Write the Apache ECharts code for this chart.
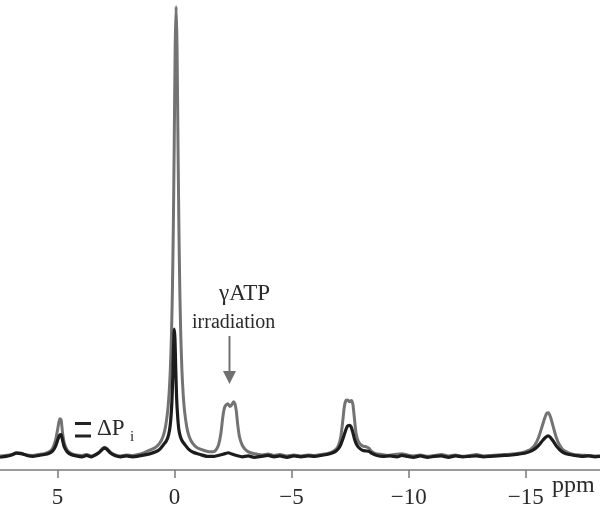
<!DOCTYPE html>
<html>
<head>
<meta charset="utf-8">
<script src="https://cdn.jsdelivr.net/npm/echarts@6/dist/echarts.min.js"></script>
<style>
  html, body { margin: 0; padding: 0; background: #fff; }
  #chart { width: 600px; height: 509px; }
</style>
</head>
<body>
<div id="chart"></div>
<script>
// chemical shift (ppm) and intensity
const controlSpectrum = [
  [7.45, 0.1], [7.2, 0.2], [6.95, 0.4], [6.75, 0.8], [6.55, 0.7], [6.3, 0.3], [6.05, 0.2], [5.8, 0.4],
  [5.55, 0.6], [5.35, 1.0], [5.2, 1.8], [5.08, 3.5], [4.98, 6.2], [4.9, 8.3], [4.84, 8.0], [4.78, 5.2],
  [4.7, 2.8], [4.58, 1.4], [4.42, 0.7], [4.2, 0.3], [3.95, 0.2], [3.75, 0.4], [3.55, 0.1], [3.38, 0.4],
  [3.2, 1.0], [3.06, 1.8], [2.97, 2.0], [2.88, 1.7], [2.75, 1.0], [2.55, 0.4], [2.3, 0.1], [2.05, 0.3],
  [1.8, 0.2], [1.55, 0.4], [1.35, 0.7], [1.13, 1.2], [0.83, 1.9], [0.63, 2.9], [0.48, 4.5], [0.38, 6.6],
  [0.29, 10], [0.23, 13.8], [0.18, 18.7], [0.13, 26.5], [0.09, 36], [0.05, 50], [0.01, 69], [-0.03, 90],
  [-0.07, 99], [-0.11, 90], [-0.15, 69], [-0.19, 50], [-0.23, 36], [-0.27, 26.5], [-0.32, 18.7], [-0.37, 13.8],
  [-0.43, 10], [-0.52, 6.6], [-0.62, 4.5], [-0.77, 2.9], [-0.97, 1.9], [-1.27, 1.3], [-1.5, 1.0], [-1.65, 1.0],
  [-1.77, 1.4], [-1.88, 2.5], [-1.98, 5], [-2.06, 8.5],
  [-2.13, 10.6], [-2.2, 11.3], [-2.28, 11.6], [-2.36, 11.0], [-2.44, 11.3], [-2.52, 12.0], [-2.58, 11.6], [-2.64, 10.0],
  [-2.7, 7.0], [-2.78, 4.2], [-2.9, 2.4], [-3.05, 1.4], [-3.25, 0.8], [-3.5, 0.5], [-3.75, 0.3], [-4.0, 0.5],
  [-4.25, 0.2], [-4.5, 0.4], [-4.8, 0.1], [-5.1, 0.3], [-5.4, 0.1], [-5.7, 0.3], [-6.0, 0.2], [-6.25, 0.4],
  [-6.5, 0.6], [-6.7, 0.9], [-6.88, 1.5], [-7.0, 2.4], [-7.1, 4.2], [-7.18, 7.5], [-7.25, 10.8], [-7.32, 12.3],
  [-7.4, 12.4], [-7.47, 12.0], [-7.55, 12.3], [-7.62, 11.4], [-7.68, 8.5], [-7.75, 5.2], [-7.84, 3.4], [-7.95, 2.6],
  [-8.08, 2.2], [-8.2, 2.1], [-8.3, 1.8], [-8.42, 1.1], [-8.6, 0.6], [-8.85, 0.4], [-9.1, 0.2], [-9.4, 0.4],
  [-9.7, 0.6], [-9.95, 0.3], [-10.2, 0.1], [-10.5, 0.3], [-10.8, 0.0], [-11.1, 0.2], [-11.4, 0.4], [-11.7, 0.1],
  [-12.0, 0.3], [-12.3, 0.0], [-12.6, 0.2], [-12.9, 0.4], [-13.2, 0.1], [-13.5, 0.2], [-13.8, 0.3], [-14.1, 0.4],
  [-14.4, 0.5], [-14.7, 0.7], [-14.95, 1.0], [-15.2, 1.5], [-15.4, 2.6], [-15.55, 4.2], [-15.68, 6.3], [-15.8, 8.3],
  [-15.9, 9.5], [-15.97, 9.6], [-16.06, 8.6], [-16.18, 6.4], [-16.3, 4.2], [-16.43, 2.6], [-16.58, 1.5], [-16.78, 0.9],
  [-17.0, 0.5], [-17.3, 0.3], [-17.6, 0.2], [-17.9, 0.1], [-18.17, 0.1]
]

const irradiatedSpectrum = [
  [7.45, -0.2], [7.2, 0.0], [6.95, 0.3], [6.75, 0.7], [6.55, 0.6], [6.3, 0.2], [6.05, 0.0], [5.8, 0.2],
  [5.55, 0.4], [5.35, 0.7], [5.2, 1.2], [5.08, 2.2], [4.98, 3.7], [4.9, 4.7], [4.84, 4.8], [4.78, 3.6],
  [4.7, 2.0], [4.58, 1.0], [4.42, 0.4], [4.2, 0.1], [3.95, -0.1], [3.75, 0.2], [3.55, -0.1], [3.38, 0.3],
  [3.2, 0.9], [3.06, 1.6], [2.97, 1.8], [2.88, 1.5], [2.75, 0.8], [2.55, 0.2], [2.3, -0.1], [2.05, 0.1],
  [1.8, -0.1], [1.5, 0.1], [1.1, 0.5], [0.8, 1.0], [0.62, 1.6], [0.45, 2.7], [0.36, 3.3], [0.28, 4.2],
  [0.21, 5.8], [0.16, 8], [0.11, 12], [0.07, 18], [0.04, 24], [0.01, 28], [-0.02, 26], [-0.05, 20],
  [-0.09, 13], [-0.14, 8.5], [-0.19, 5.8], [-0.26, 4.2], [-0.34, 3.3], [-0.44, 2.6], [-0.6, 1.6], [-0.8, 0.9],
  [-1.1, 0.4], [-1.4, 0.0], [-1.7, 0.0], [-1.95, 0.3], [-2.15, 0.6], [-2.3, 0.8], [-2.45, 0.5], [-2.65, 0.2],
  [-2.9, -0.1], [-3.15, 0.1], [-3.4, -0.2], [-3.7, 0.0], [-4.0, 0.2], [-4.25, -0.1], [-4.5, 0.1], [-4.8, -0.2],
  [-5.1, 0.1], [-5.4, -0.1], [-5.7, 0.1], [-6.0, 0.0], [-6.25, 0.2], [-6.5, 0.4], [-6.7, 0.7], [-6.88, 1.1],
  [-7.0, 1.7], [-7.1, 2.6], [-7.2, 4.0], [-7.3, 5.6], [-7.38, 6.6], [-7.46, 6.8], [-7.54, 6.5], [-7.62, 5.2],
  [-7.7, 3.6], [-7.8, 2.4], [-7.92, 1.7], [-8.05, 1.3], [-8.18, 1.2], [-8.3, 1.1], [-8.45, 0.6], [-8.65, 0.2],
  [-8.9, 0.0], [-9.2, 0.1], [-9.5, -0.1], [-9.7, 0.2], [-9.95, 0.0], [-10.2, -0.2], [-10.5, 0.1], [-10.8, -0.2],
  [-11.1, 0.0], [-11.4, 0.1], [-11.7, -0.2], [-12.0, 0.1], [-12.3, -0.1], [-12.6, 0.0], [-12.9, 0.1], [-13.2, -0.1],
  [-13.5, 0.0], [-13.8, 0.1], [-14.1, 0.2], [-14.4, 0.3], [-14.7, 0.5], [-14.95, 0.7], [-15.2, 1.1], [-15.4, 1.7],
  [-15.58, 2.6], [-15.72, 3.5], [-15.85, 4.2], [-15.95, 4.5], [-16.05, 4.2], [-16.18, 3.3], [-16.32, 2.2], [-16.46, 1.4],
  [-16.62, 0.8], [-16.85, 0.4], [-17.1, 0.2], [-17.4, 0.0], [-17.7, 0.1], [-17.95, -0.1], [-18.17, 0.0]
]

const ppmTicks = [5, 0, -5, -10, -15]

const serif = '"Liberation Serif", "DejaVu Serif", serif'
const axisGrey = '#7a7a7a'
const ink = '#2a2a2a'

const chart = echarts.init(document.getElementById('chart'))

chart.setOption({
  animation: false,
  grid: { left: 0, right: 0, top: 2, bottom: 35 },
  xAxis: {
    type: 'value',
    inverse: true,
    min: -18.17,
    max: 7.45,
    splitLine: { show: false },
    axisLine: { onZero: false, lineStyle: { color: axisGrey, width: 1.5 } },
    axisTick: {
      customValues: ppmTicks,
      length: 8,
      lineStyle: { color: axisGrey, width: 1.5 },
    },
    axisLabel: {
      customValues: ppmTicks,
      margin: 16,
      color: ink,
      fontFamily: serif,
      fontSize: 23,
      formatter: (v) => String(v).replace('-', '\u2212'),
    },
  },
  yAxis: {
    type: 'value',
    show: false,
    min: -3,
    max: 100,
  },
  series: [
    {
      name: 'control',
      type: 'line',
      showSymbol: false,
      smooth: 0.2,
      lineStyle: { color: '#737373', width: 3 },
      data: controlSpectrum,
      z: 2,
    },
    {
      name: 'irradiated',
      type: 'line',
      showSymbol: false,
      smooth: 0.2,
      lineStyle: { color: '#1c1c1c', width: 3.2 },
      data: irradiatedSpectrum,
      z: 3,
    },
  ],
  graphic: [
    // gamma-ATP irradiation note and arrow
    {
      type: 'text',
      left: 219,
      top: 282,
      style: { text: '\u03b3ATP', font: '23px ' + serif, fill: ink },
    },
    {
      type: 'text',
      left: 192,
      top: 313,
      style: { text: 'irradiation', font: '20px ' + serif, fill: ink },
    },
    {
      type: 'line',
      shape: { x1: 229.5, y1: 336, x2: 229.5, y2: 374 },
      style: { stroke: '#707070', lineWidth: 2 },
    },
    {
      type: 'polygon',
      shape: { points: [[223, 371], [236, 371], [229.5, 384]] },
      style: { fill: '#707070' },
    },
    // delta Pi marker
    {
      type: 'line',
      shape: { x1: 75, y1: 423.5, x2: 91, y2: 423.5 },
      style: { stroke: '#222', lineWidth: 3 },
    },
    {
      type: 'line',
      shape: { x1: 75, y1: 436, x2: 91, y2: 436 },
      style: { stroke: '#222', lineWidth: 3 },
    },
    {
      type: 'text',
      left: 97,
      top: 417,
      style: { text: '\u0394P', font: '23px ' + serif, fill: ink },
    },
    {
      type: 'text',
      left: 130,
      top: 430,
      style: { text: 'i', font: '15px ' + serif, fill: ink },
    },
    // axis unit
    {
      type: 'text',
      left: 552,
      top: 474,
      style: { text: 'ppm', font: '24px ' + serif, fill: ink },
    },
  ],
})
</script>
</body>
</html>
